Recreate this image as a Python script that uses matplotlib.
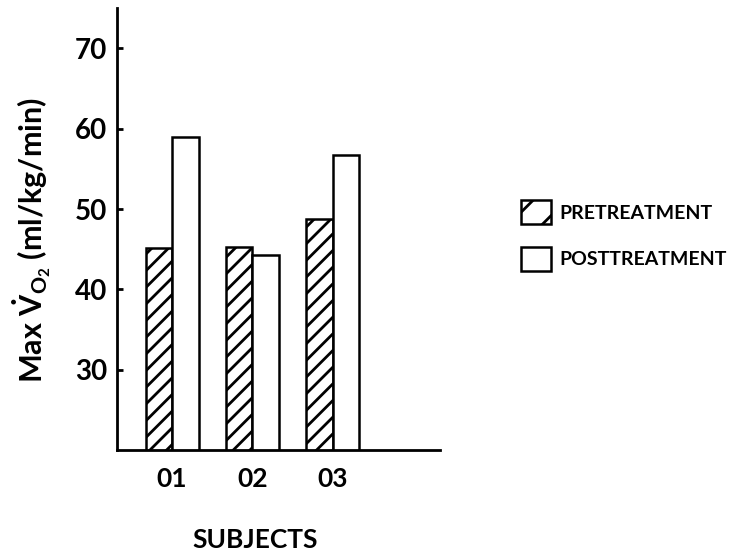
import matplotlib
matplotlib.use("Agg")
import matplotlib.pyplot as plt
import numpy as np
from matplotlib.patches import Patch

subjects = ["01", "02", "03"]
pretreatment = [45.2, 45.3, 48.8]
posttreatment = [59.0, 44.3, 56.7]
yticks = [30, 40, 50, 60, 70]

plt.rcParams['font.family'] = ['Lato', 'DejaVu Sans']
plt.rcParams['font.weight'] = 'bold'
plt.rcParams['mathtext.fontset'] = 'custom'
plt.rcParams['mathtext.rm'] = 'Lato:bold'
plt.rcParams['mathtext.it'] = 'Lato:bold'
plt.rcParams['mathtext.bf'] = 'Lato:bold'
plt.rcParams['hatch.linewidth'] = 2.0
plt.rcParams['hatch.color'] = 'black'

fig = plt.figure(figsize=(7.3, 5.54), dpi=100)
ax = fig.add_axes([116.7/730, 1-450/554, (440-116.7)/730, (450-8.3)/554])

x = np.arange(1, len(subjects)+1)
w = 0.33
ax.bar(x - w/2, pretreatment, w, facecolor='white', edgecolor='black',
       linewidth=1.8, hatch='//', label='PRETREATMENT')
ax.bar(x + w/2, posttreatment, w, facecolor='white', edgecolor='black',
       linewidth=1.8, label='POSTTREATMENT')

ax.set_ylim(20, 75)
ax.set_xlim(0.31, 4.34)
ax.set_yticks(yticks)
ax.set_xticks(x)
ax.set_xticklabels(subjects)
for s in ['top', 'right']:
    ax.spines[s].set_visible(False)
for s in ['left', 'bottom']:
    ax.spines[s].set_linewidth(2.0)
ax.tick_params(axis='y', direction='in', length=4.5, width=2.0, pad=7, labelsize=20)
ax.tick_params(axis='x', length=0, pad=12, labelsize=19)

ax.set_ylabel(r'Max $\dot{V}_{O_2}$ (ml/kg/min)', fontsize=22, fontweight='bold')
ax.yaxis.set_label_coords(-0.197, 0.475)

fig.text(255/730, 1-540/554, 'SUBJECTS', ha='center', va='center', fontsize=19, fontweight='bold')

handles = [Patch(facecolor='white', edgecolor='black', linewidth=1.8, hatch='/', label='PRETREATMENT'),
           Patch(facecolor='white', edgecolor='black', linewidth=1.8, label='POSTTREATMENT')]
fig.legend(handles=handles, loc='upper left', bbox_to_anchor=(521/730, 1-200/554),
           frameon=False, fontsize=14, handlelength=1.55, handleheight=1.55,
           handletextpad=0.4, labelspacing=1.15, borderpad=0, borderaxespad=0)

fig.savefig('out.png', dpi=100)
